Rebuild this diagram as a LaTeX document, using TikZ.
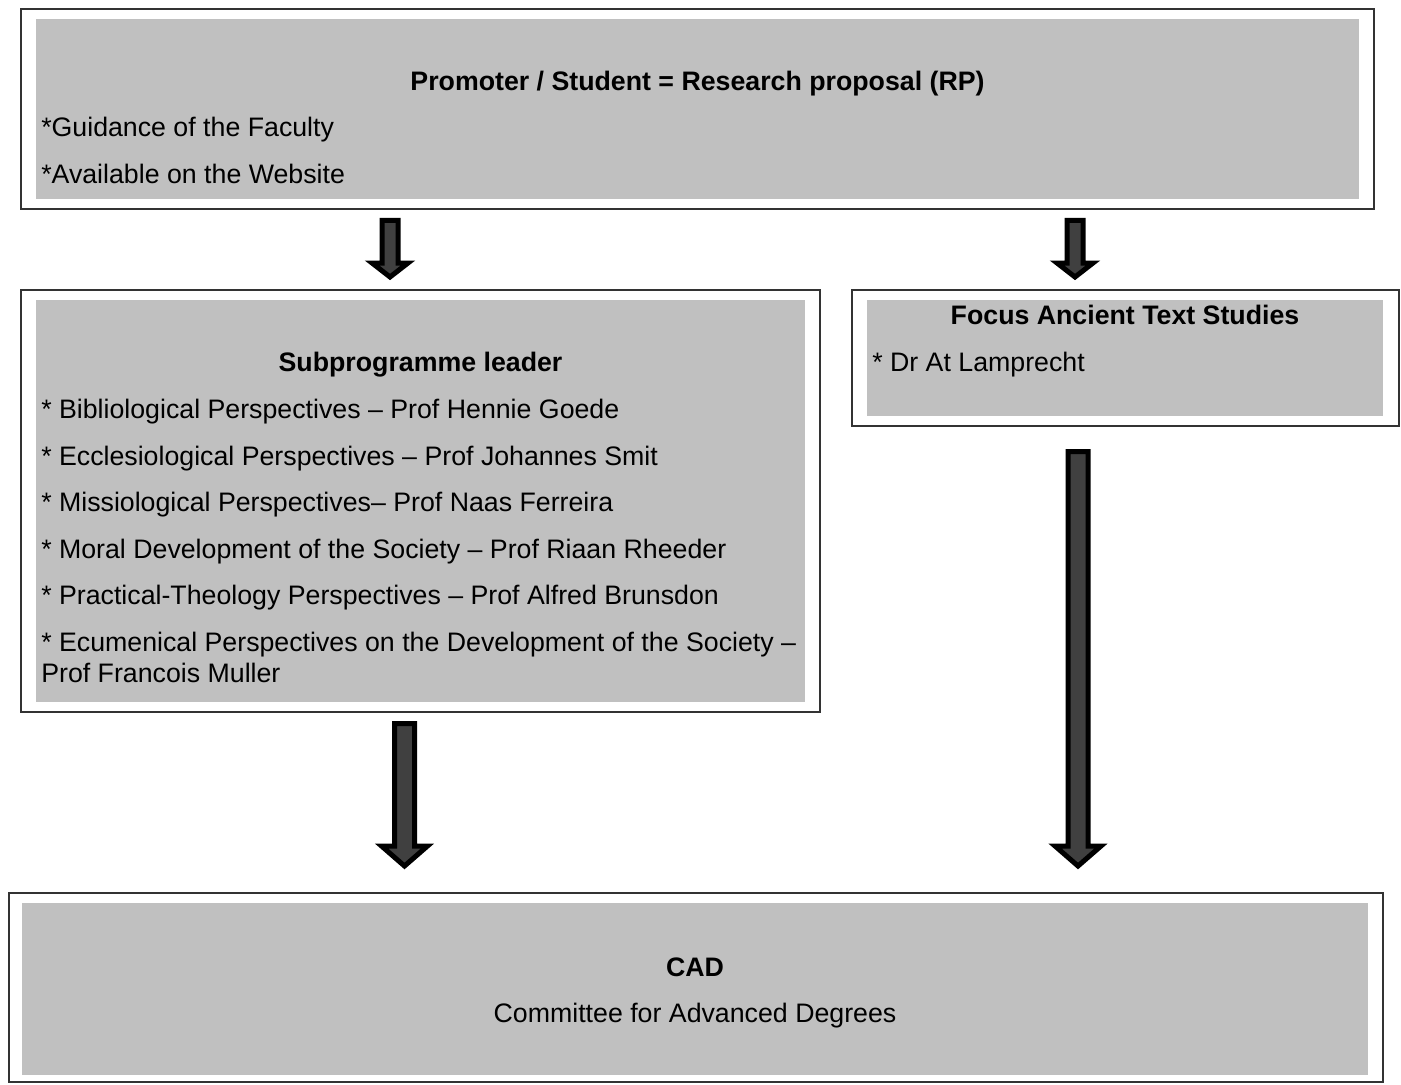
\documentclass[tikz,border=0pt]{standalone}
\usepackage{fontspec}
\setmainfont{Liberation Sans}
\usetikzlibrary{calc,fit}
\definecolor{graybg}{HTML}{C0C0C0}
\definecolor{arrowgray}{HTML}{404040}
\newcommand{\blkarrow}[5]{%
  \draw[blockarrow] let \p1=(#1), \p2=(#2) in
    (\x1-#3*0.75pt,\y1) -- (\x1+#3*0.75pt,\y1) -- (\x1+#3*0.75pt,\y2+#5*0.75pt)
    -- (\x1+#4*0.75pt,\y2+#5*0.75pt) -- (\x2,\y2) -- (\x1-#4*0.75pt,\y2+#5*0.75pt)
    -- (\x1-#3*0.75pt,\y2+#5*0.75pt) -- cycle;}
\begin{document}
\begin{tikzpicture}[x=0.75pt,y=-0.75pt,
  outerbox/.style={draw=black!80, line width=1.1pt, fill=white, inner sep=0pt},
  graybox/.style={fill=graybg, draw=none, inner sep=0pt},
  txt/.style={anchor=base west, inner sep=0pt, font=\fontsize{20.05}{23}\selectfont},
  ttl/.style={anchor=base, inner sep=0pt, font=\fontsize{20.05}{23}\selectfont\bfseries},
  ctr/.style={anchor=base, inner sep=0pt, font=\fontsize{20.05}{23}\selectfont},
  blockarrow/.style={fill=arrowgray, draw=black, line width=3.75pt, miter limit=10}]
\useasboundingbox (0,0) rectangle (1401,1084);

% top box
\node[outerbox, fit={(21,9)(1374,209)}] (top) {};
\node[graybox, fit={(36,19)(1359,199)}] (topin) {};
\node[ttl] (toptitle) at (697.5,91) {Promoter / Student = Research proposal (RP)};
\node[txt] (top1) at (41,137) {*Guidance of the Faculty};
\node[txt] (top2) at (41,184) {*Available on the Website};

% subprogramme box
\node[outerbox, fit={(21,290)(820,712)}] (sub) {};
\node[graybox, fit={(36,300)(805,702)}] (subin) {};
\node[ttl] (subtitle) at (420.5,371) {Subprogramme leader};
\node[txt] (sub1) at (41,418) {* Bibliological Perspectives -- Prof Hennie Goede};
\node[txt] (sub2) at (41,465) {* Ecclesiological Perspectives -- Prof Johannes Smit};
\node[txt] (sub3) at (41,511) {* Missiological Perspectives-- Prof Naas Ferreira};
\node[txt] (sub4) at (41,558) {* Moral Development of the Society -- Prof Riaan Rheeder};
\node[txt] (sub5) at (41,604) {* Practical-Theology Perspectives -- Prof Alfred Brunsdon};
\node[txt] (sub6) at (41,651) {* Ecumenical Perspectives on the Development of the Society --};
\node[txt] (sub7) at (41,682) {Prof Francois Muller};

% focus box
\node[outerbox, fit={(852,290)(1399,426)}] (focus) {};
\node[graybox, fit={(867,300)(1383,416)}] (focusin) {};
\node[ttl] (focustitle) at (1125,324) {Focus Ancient Text Studies};
\node[txt] (focus1) at (872,371) {* Dr At Lamprecht};

% CAD box
\node[outerbox, fit={(9,893)(1383,1082)}] (cad) {};
\node[graybox, fit={(22,903)(1368,1075)}] (cadin) {};
\node[ttl] (cadtitle) at (695,976) {CAD};
\node[ctr] (cad1) at (695,1022) {Committee for Advanced Degrees};

% arrows
\coordinate (a1s) at (390,220.5);
\coordinate (a1e) at (390,277);
\coordinate (a2s) at (1075,220.5);
\coordinate (a2e) at (1075,277);
\coordinate (a3s) at (404.5,723.5);
\coordinate (a3e) at (404.5,866);
\coordinate (a4s) at (1078,451.5);
\coordinate (a4e) at (1078,866);
\blkarrow{a1s}{a1e}{8}{18}{14}
\blkarrow{a2s}{a2e}{8}{18}{14}
\blkarrow{a3s}{a3e}{10}{23}{20}
\blkarrow{a4s}{a4e}{10}{23}{20}
\end{tikzpicture}
\end{document}
